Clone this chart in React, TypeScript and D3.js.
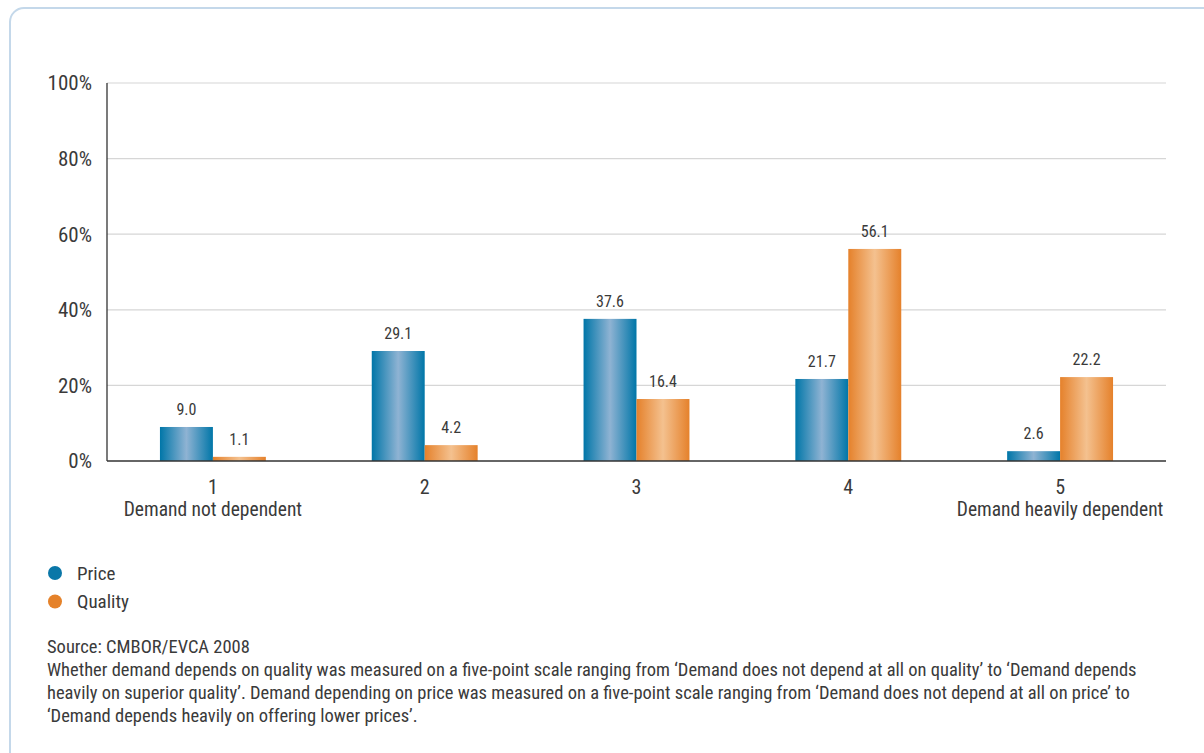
import React from "react";
import * as d3 from "d3";

const categories = ["1", "2", "3", "4", "5"];
const subLabels = ["Demand not dependent", "", "", "", "Demand heavily dependent"];
const seriesNames = ["Price", "Quality"];
const priceValues = [9.0, 29.1, 37.6, 21.7, 2.6];
const qualityValues = [1.1, 4.2, 16.4, 56.1, 22.2];
const yTicks = [0, 20, 40, 60, 80, 100];
const sourceLine = "Source: CMBOR/EVCA 2008";
const noteLines = [
  "Whether demand depends on quality was measured on a five-point scale ranging from \u2018Demand does not depend at all on quality\u2019 to \u2018Demand depends",
  "heavily on superior quality\u2019. Demand depending on price was measured on a five-point scale ranging from \u2018Demand does not depend at all on price\u2019 to",
  "\u2018Demand depends heavily on offering lower prices\u2019.",
];

const FONT = "'Liberation Sans Narrow', 'Roboto Condensed', Roboto, 'Liberation Sans', sans-serif";

export default function App() {
  const W = 1204, H = 753;
  const left = 107, right = 1166, top = 83, bottom = 461;
  const x0 = d3.scaleBand().domain(categories).range([left, right]).paddingInner(0).paddingOuter(0);
  const bw = x0.bandwidth();
  const barW = bw * 0.25;
  const y = d3.scaleLinear().domain([0, 100]).range([bottom, top]);
  const series = [
    { name: seriesNames[0], values: priceValues, grad: "gBlue", color: "#0a77a8" },
    { name: seriesNames[1], values: qualityValues, grad: "gOrange", color: "#e5822a" },
  ];
  const txt = "#3a3a3a";
  return (
    <svg width={W} height={H} style={{ position: "absolute", left: 0, top: 0, fontFamily: FONT }}>
      <defs>
        <linearGradient id="gBlue" x1="0" x2="1" y1="0" y2="0">
          <stop offset="0" stopColor="#0076a8" />
          <stop offset="0.5" stopColor="#8fb3d3" />
          <stop offset="1" stopColor="#0076a8" />
        </linearGradient>
        <linearGradient id="gOrange" x1="0" x2="1" y1="0" y2="0">
          <stop offset="0" stopColor="#e5812b" />
          <stop offset="0.5" stopColor="#f4c18f" />
          <stop offset="1" stopColor="#e5812b" />
        </linearGradient>
      </defs>
      <rect x={0} y={0} width={W} height={H} fill="#fff" />
      <rect x={10} y={8} width={W + 40} height={H + 40} rx={14} ry={14} fill="#fff" stroke="#c4d8ea" strokeWidth={2} />
      {yTicks.map((t) => (
        <g key={t}>
          {t > 0 && <line x1={left} x2={right} y1={y(t)} y2={y(t)} stroke="#d6d6d6" strokeWidth={1.2} />}
          <text x={92} y={y(t)} dy="0.35em" textAnchor="end" fontSize={21} fill={txt}>{t}%</text>
        </g>
      ))}
      {categories.map((c, i) => (
        <g key={c}>
          {series.map((s, j) => {
            const v = s.values[i];
            const bx = x0(c)! + bw / 2 - barW + j * barW;
            return (
              <g key={s.name}>
                <rect x={bx} y={y(v)} width={barW} height={y(0) - y(v)} fill={`url(#${s.grad})`} />
                <text x={bx + barW / 2} y={y(v) - 12} textAnchor="middle" fontSize={16} fill={txt}>{v.toFixed(1)}</text>
              </g>
            );
          })}
          <text x={x0(c)! + bw / 2} y={494} textAnchor="middle" fontSize={20} fill={txt}>{c}</text>
          {subLabels[i] && (
            <text x={x0(c)! + bw / 2} y={516} textAnchor="middle" fontSize={19.5} fill={txt}>{subLabels[i]}</text>
          )}
        </g>
      ))}
      <line x1={left} x2={left} y1={top} y2={bottom} stroke="#222" strokeWidth={1.2} />
      <line x1={left} x2={right} y1={bottom} y2={bottom} stroke="#333" strokeWidth={1.5} />
      {series.map((s, j) => (
        <g key={s.name}>
          <circle cx={55} cy={573 + j * 28.5} r={7} fill={s.color} />
          <text x={77} y={573 + j * 28.5} dy="0.35em" fontSize={19} fill={txt}>{s.name}</text>
        </g>
      ))}
      <text x={47} y={653} fontSize={18.5} fill={txt}>{sourceLine}</text>
      {noteLines.map((l, i) => (
        <text key={i} x={47} y={676 + i * 23} fontSize={18.5} fill={txt}>{l}</text>
      ))}
    </svg>
  );
}
